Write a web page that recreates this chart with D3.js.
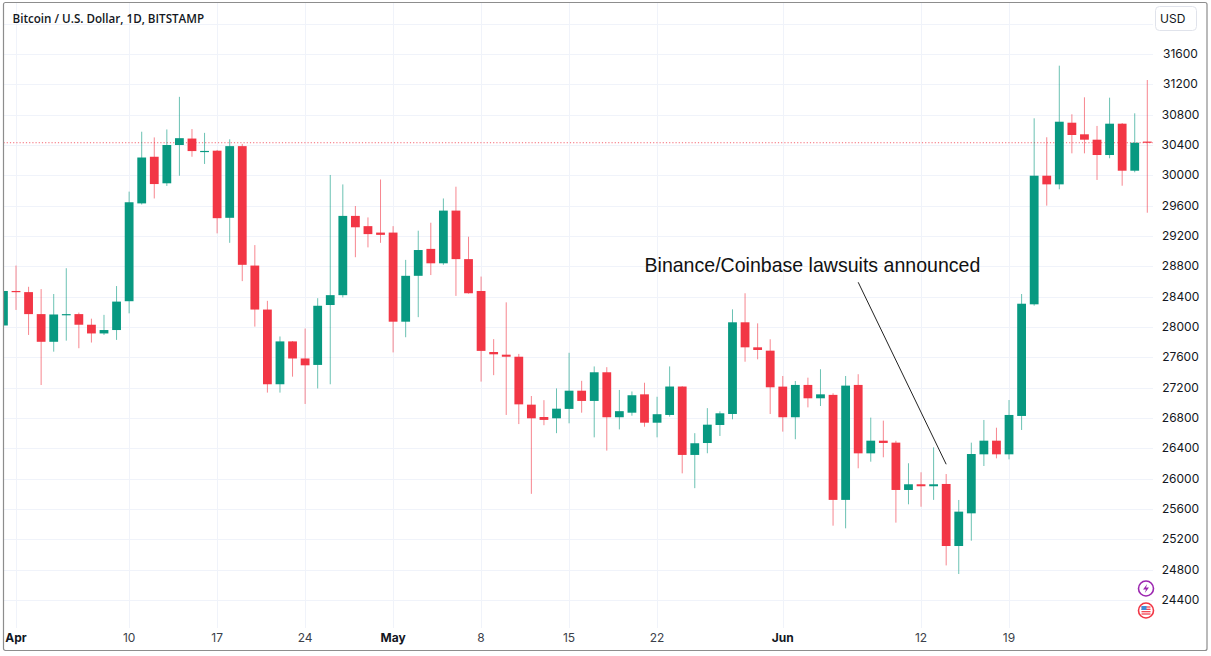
<!DOCTYPE html>
<html>
<head>
<meta charset="utf-8">
<script src="https://cdn.jsdelivr.net/npm/d3@7"></script>
<style>
  body { margin: 0; background: #fff; }
  svg { display: block; }
</style>
</head>
<body>
<svg id="chart" width="1211" height="656"></svg>
<script>
// BTC/USD daily, Bitstamp, Mar 31 - Jun 30 2023
const dates = [
  "2023-03-31",
  "2023-04-01", "2023-04-02", "2023-04-03", "2023-04-04", "2023-04-05", "2023-04-06", "2023-04-07",
  "2023-04-08", "2023-04-09", "2023-04-10", "2023-04-11", "2023-04-12", "2023-04-13", "2023-04-14",
  "2023-04-15", "2023-04-16", "2023-04-17", "2023-04-18", "2023-04-19", "2023-04-20", "2023-04-21",
  "2023-04-22", "2023-04-23", "2023-04-24", "2023-04-25", "2023-04-26", "2023-04-27", "2023-04-28",
  "2023-04-29", "2023-04-30",
  "2023-05-01", "2023-05-02", "2023-05-03", "2023-05-04", "2023-05-05", "2023-05-06", "2023-05-07",
  "2023-05-08", "2023-05-09", "2023-05-10", "2023-05-11", "2023-05-12", "2023-05-13", "2023-05-14",
  "2023-05-15", "2023-05-16", "2023-05-17", "2023-05-18", "2023-05-19", "2023-05-20", "2023-05-21",
  "2023-05-22", "2023-05-23", "2023-05-24", "2023-05-25", "2023-05-26", "2023-05-27", "2023-05-28",
  "2023-05-29", "2023-05-30", "2023-05-31",
  "2023-06-01", "2023-06-02", "2023-06-03", "2023-06-04", "2023-06-05", "2023-06-06", "2023-06-07",
  "2023-06-08", "2023-06-09", "2023-06-10", "2023-06-11", "2023-06-12", "2023-06-13", "2023-06-14",
  "2023-06-15", "2023-06-16", "2023-06-17", "2023-06-18", "2023-06-19", "2023-06-20", "2023-06-21",
  "2023-06-22", "2023-06-23", "2023-06-24", "2023-06-25", "2023-06-26", "2023-06-27", "2023-06-28",
  "2023-06-29", "2023-06-30",
];
const opens = [
  28020,
  28475, 28460, 28170, 27805, 28165, 28170, 28030, 27915, 27960, 28340, 29630, 30245, 29895, 30400,
  30485, 30320, 30325, 29440, 30385, 28810, 28230, 27245, 27810, 27585, 27500, 28290, 28420, 29465,
  29330, 29245,
  29245, 28070, 28675, 29030, 28840, 29535, 28895, 28475, 27670, 27635, 27608, 26976, 26813, 26796,
  26920, 27160, 27025, 27403, 26810, 26870, 27112, 26738, 26840, 27215, 26313, 26470, 26708, 26853,
  28062, 27732, 27688,
  27214, 26810, 27236, 27060, 27105, 25720, 27236, 26334, 26501, 26475, 25851, 25926, 25900, 25930,
  25112, 25543, 26321, 26501, 26321, 26827, 28299, 29995, 29881, 30694, 30541, 30470, 30268, 30681,
  30061, 30445,
];
const highs = [
  28650,
  28810, 28530, 28500, 28435, 28775, 28190, 28110, 28160, 28540, 29785, 30575, 30500, 30605, 31035,
  30610, 30560, 30335, 30475, 30415, 29080, 28345, 27875, 27815, 27980, 28380, 30005, 29880, 29595,
  29445, 29945,
  29330, 28885, 29270, 29375, 29695, 29850, 29190, 28665, 27840, 28325, 27645, 27090, 27035, 27190,
  27660, 27290, 27480, 27470, 27170, 27150, 27265, 27080, 27480, 27220, 26600, 26930, 26888, 28233,
  28445, 28048, 27838,
  27354, 27288, 27332, 27443, 27126, 27354, 27377, 26805, 26765, 26500, 26203, 26084, 26413, 26061,
  25719, 26475, 26774, 26672, 27037, 28435, 30752, 30502, 31446, 30805, 31029, 30651, 31024, 30690,
  30818, 31257,
];
const lows = [
  27550,
  28225, 27895, 27235, 27675, 27820, 27720, 27795, 27895, 27830, 28180, 29615, 29695, 29860, 29995,
  30245, 30150, 29235, 29110, 28605, 28005, 27135, 27135, 27345, 26985, 27190, 27245, 28390, 28920,
  29050, 29110,
  27665, 27865, 28130, 28685, 28820, 28410, 28440, 27280, 27365, 26840, 26720, 25800, 26705, 26600,
  26730, 26870, 26545, 26370, 26650, 26830, 26685, 26545, 26818, 26070, 25875, 26335, 26563, 26783,
  27542, 27574, 26853,
  26620, 26520, 26940, 26958, 25380, 25345, 26137, 26224, 26282, 25420, 25662, 25630, 25720, 24856,
  24743, 25182, 26167, 26268, 26255, 26642, 28281, 29600, 29816, 30290, 30290, 29939, 30225, 29863,
  30040, 29507,
];
const closes = [
  28475,
  28460, 28170, 27805, 28165, 28170, 28030, 27915, 27960, 28335, 29645, 30235, 29885, 30400, 30490,
  30320, 30322, 29435, 30385, 28820, 28230, 27245, 27810, 27585, 27495, 28280, 28420, 29465, 29315,
  29225, 29215,
  28070, 28675, 29015, 28840, 29535, 28895, 28445, 27685, 27640, 27608, 26980, 26796, 26775, 26923,
  27160, 27025, 27403, 26810, 26890, 27100, 26738, 26850, 27215, 26313, 26467, 26712, 26862, 28062,
  27732, 27697, 27205,
  26810, 27236, 27060, 27112, 25720, 27227, 26334, 26501, 26471, 25851, 25926, 25900, 25926, 25112,
  25565, 26325, 26501, 26321, 26840, 28307, 29995, 29881, 30707, 30532, 30470, 30268, 30681, 30061,
  30430, 30430,
];

const lastPrice = 30430;
const priceTicks = d3.range(24400, 31601, 400);
const gridPrices = d3.range(24000, 32001, 400);
const timeTicks = [
  "2023-04-01", "2023-04-10", "2023-04-17", "2023-04-24", "2023-05-01", "2023-05-08",
  "2023-05-15", "2023-05-22", "2023-06-01", "2023-06-12", "2023-06-19",
];
const timeTickLabels = ["Apr", "10", "17", "24", "May", "8", "15", "22", "Jun", "12", "19"];

const title = "Bitcoin / U.S. Dollar, 1D, BITSTAMP";
const noteText = "Binance/Coinbase lawsuits announced";
const noteAt = ["2023-05-21", 28720];
const noteFrom = ["2023-06-07", 28590];
const noteTo = ["2023-06-14", 26190];

const UP = "#089981",
  DOWN = "#f23645",
  GRID = "#f0f3fa",
  TEXT = "#131722";

const parse = d3.utcParse("%Y-%m-%d");
const candles = dates.map((d, i) => ({
  date: parse(d),
  open: opens[i],
  high: highs[i],
  low: lows[i],
  close: closes[i],
}));

// frame of the chart pane
const frame = { left: 3.5, top: 2.5, right: 1207, bottom: 650.5 };
const plot = { left: 3.5, top: 2.5, right: 1153, bottom: 628 };

const svg = d3.select("#chart");

const x = d3
  .scaleUtc()
  .domain([parse("2023-04-01"), parse("2023-06-30")])
  .range([16, 1147.3]);
const y = d3.scaleLinear().domain([24400, 31600]).range([600, 54]);
const dayW = x(parse("2023-04-02")) - x(parse("2023-04-01"));
const bodyW = dayW * 0.7;

svg
  .append("defs")
  .append("clipPath")
  .attr("id", "clip")
  .append("rect")
  .attr("x", plot.left)
  .attr("y", plot.top)
  .attr("width", plot.right - plot.left)
  .attr("height", plot.bottom - plot.top);

// grid
const grid = svg.append("g").attr("clip-path", "url(#clip)");
grid
  .selectAll("line.hgrid")
  .data(gridPrices)
  .enter()
  .append("line")
  .attr("x1", plot.left)
  .attr("x2", plot.right)
  .attr("y1", (d) => Math.round(y(d)) + 0.5)
  .attr("y2", (d) => Math.round(y(d)) + 0.5)
  .attr("stroke", GRID);
grid
  .selectAll("line.vgrid")
  .data(timeTicks)
  .enter()
  .append("line")
  .attr("x1", (d) => Math.round(x(parse(d))) + 0.5)
  .attr("x2", (d) => Math.round(x(parse(d))) + 0.5)
  .attr("y1", plot.top)
  .attr("y2", plot.bottom)
  .attr("stroke", GRID);

// last price line
grid
  .append("line")
  .attr("x1", plot.left)
  .attr("x2", plot.right)
  .attr("y1", y(lastPrice))
  .attr("y2", y(lastPrice))
  .attr("stroke", DOWN)
  .attr("stroke-opacity", 0.75)
  .attr("stroke-dasharray", "1.2,2");

// candles
const body = svg.append("g").attr("clip-path", "url(#clip)");
const color = (d) => (d.close >= d.open ? UP : DOWN);

body
  .selectAll("line.wick")
  .data(candles)
  .enter()
  .append("line")
  .attr("class", "wick")
  .attr("x1", (d) => x(d.date))
  .attr("x2", (d) => x(d.date))
  .attr("y1", (d) => y(d.high))
  .attr("y2", (d) => y(d.low))
  .attr("stroke", color)
  .attr("stroke-opacity", 0.6)
  .attr("stroke-width", 1);

body
  .selectAll("rect.candle")
  .data(candles)
  .enter()
  .append("rect")
  .attr("class", "candle")
  .attr("x", (d) => x(d.date) - bodyW / 2)
  .attr("y", (d) => y(Math.max(d.open, d.close)))
  .attr("width", bodyW)
  .attr("height", (d) => Math.max(1.2, y(Math.min(d.open, d.close)) - y(Math.max(d.open, d.close))))
  .attr("fill", color);

// price scale
const priceAxis = svg.append("g").attr("font-family", "Inter, 'Liberation Sans', Arial, sans-serif");
priceAxis
  .selectAll("text")
  .data(priceTicks)
  .enter()
  .append("text")
  .attr("x", 1180.5)
  .attr("y", (d) => y(d))
  .attr("dy", "0.32em")
  .attr("text-anchor", "middle")
  .attr("font-size", 12)
  .attr("fill", TEXT)
  .text((d) => d);

// time scale
const timeAxis = svg.append("g").attr("font-family", "Inter, 'Liberation Sans', Arial, sans-serif");
timeAxis
  .selectAll("text")
  .data(timeTicks)
  .enter()
  .append("text")
  .attr("x", (d) => x(parse(d)))
  .attr("y", 637.5)
  .attr("dy", "0.35em")
  .attr("text-anchor", "middle")
  .attr("font-size", 12)
  .attr("font-weight", (d, i) => (isNaN(+timeTickLabels[i]) ? 700 : 400))
  .attr("fill", (d, i) => (isNaN(+timeTickLabels[i]) ? TEXT : "#3b3f4a"))
  .text((d, i) => timeTickLabels[i]);

// currency box
svg
  .append("rect")
  .attr("x", 1155.5)
  .attr("y", 6.5)
  .attr("width", 41)
  .attr("height", 24)
  .attr("rx", 4)
  .attr("fill", "#fff")
  .attr("stroke", "#e0e3eb");
svg
  .append("text")
  .attr("x", 1160)
  .attr("y", 18.5)
  .attr("dy", "0.35em")
  .attr("font-family", "Inter, 'Liberation Sans', Arial, sans-serif")
  .attr("font-size", 12)
  .attr("fill", TEXT)
  .text("USD");

function fitWidth(sel, w) {
  const cur = sel.node().getComputedTextLength();
  const fs = parseFloat(sel.attr("font-size"));
  sel.attr("font-size", (fs * w) / cur);
}

// title
const t = svg
  .append("text")
  .attr("x", 12.5)
  .attr("y", 22.5)
  .attr("font-family", "'Open Sans', 'Noto Sans', sans-serif")
  .attr("font-weight", 600)
  .attr("font-size", 12)
  .attr("fill", TEXT)
  .text(title);
fitWidth(t, 192);

// annotation
const note = svg
  .append("text")
  .attr("x", x(parse(noteAt[0])))
  .attr("y", y(noteAt[1]))
  .attr("font-family", "'Liberation Sans', Arial, sans-serif")
  .attr("font-size", 18)
  .attr("fill", "#111")
  .text(noteText);
fitWidth(note, 336);
svg
  .append("line")
  .attr("x1", x(parse(noteFrom[0])))
  .attr("y1", y(noteFrom[1]))
  .attr("x2", x(parse(noteTo[0])))
  .attr("y2", y(noteTo[1]))
  .attr("stroke", "#222")
  .attr("stroke-width", 1);

// small badges bottom right
const b1 = svg.append("g").attr("transform", "translate(1146,588.5)");
b1.append("circle").attr("r", 7.5).attr("fill", "#fff").attr("stroke", "#9c27b0").attr("stroke-width", 1.6);
b1.append("path").attr("d", "M1.2,-4.5 L-3,1 L0,1 L-1.2,4.5 L3,-1 L0,-1 Z").attr("fill", "#9c27b0");
const b2 = svg.append("g").attr("transform", "translate(1146,610.5)");
b2.append("circle").attr("r", 7.5).attr("fill", "#fff").attr("stroke", DOWN).attr("stroke-width", 1.6);
[-3.5, -1.2, 1.2, 3.5].forEach((dy) =>
  b2.append("rect").attr("x", -4.5).attr("y", dy - 0.6).attr("width", 9).attr("height", 1.2).attr("fill", DOWN)
);
b2.append("rect").attr("x", -4.5).attr("y", -4.5).attr("width", 5).attr("height", 4).attr("fill", "#3d8bd9");

// outer frame
svg
  .append("rect")
  .attr("x", frame.left)
  .attr("y", frame.top)
  .attr("width", frame.right - frame.left)
  .attr("height", frame.bottom - frame.top)
  .attr("rx", 2)
  .attr("fill", "none")
  .attr("stroke", "#8d8d8d")
  .attr("stroke-width", 1.2);
</script>
</body>
</html>
